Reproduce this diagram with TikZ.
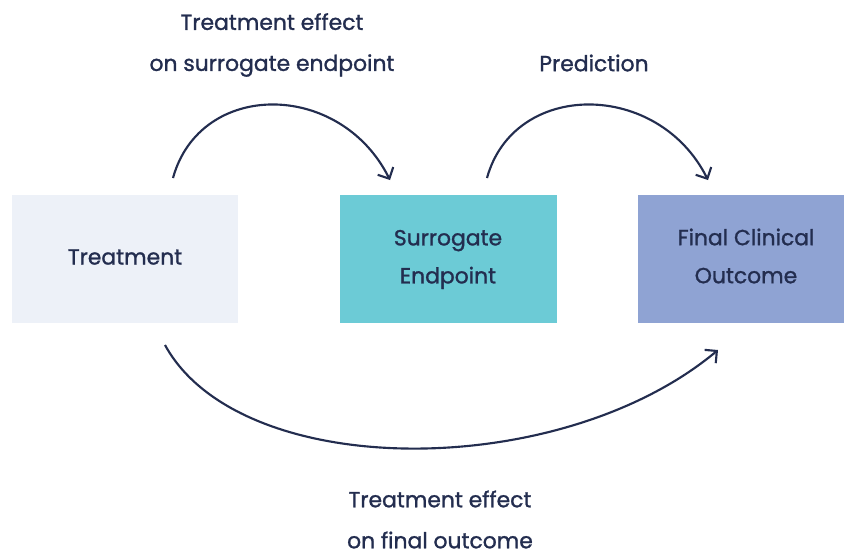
\documentclass[tikz,border=0pt]{standalone}
\usepackage{fontspec}
\setmainfont{Poppins}[FakeBold=1.2]
\usetikzlibrary{arrows.meta}

\definecolor{navy}{HTML}{232D4F}
\definecolor{paleblue}{HTML}{EDF1F8}
\definecolor{teal}{HTML}{6CCBD6}
\definecolor{lavender}{HTML}{8FA3D3}

\tikzset{
  box/.style={inner sep=0pt, text=navy, align=center, font=\fontsize{16.4}{28.5}\selectfont},
  lbl/.style={text=navy, align=center, font=\fontsize{16.4}{30.75}\selectfont},
  arr/.style={draw=navy, line width=1.6pt, -{Straight Barb[length=6.5pt, width=13pt, line width=1.6pt]}}
}

\begin{document}
\begin{tikzpicture}[x=0.75pt, y=-0.75pt]
\useasboundingbox (0,0) rectangle (844,551);

\fill[paleblue] (12,195) rectangle (238,323);
\fill[teal] (340,195) rectangle (557,323);
\fill[lavender] (638,195) rectangle (844,323);

% the box texts sit a little above the middle
\node[box] (treat) at (125,257) {Treatment};
\node[box] (surr) at (448,259.5) {Surrogate\\Endpoint};
\node[box] (final) at (746,256) {Final Clinical\\Outcome};

\node[lbl] (effsurr) at (272,45) {Treatment effect\\on surrogate endpoint};
\node[lbl] (pred) at (594,63) {Prediction};
\node[lbl] (efffinal) at (440,519.5) {Treatment effect\\on final outcome};

\coordinate (a1) at (173,178); \coordinate (b1) at (390,180);
\coordinate (a2) at (487,178); \coordinate (b2) at (708,180);
\coordinate (a3) at (165,345); \coordinate (b3) at (718,350);

\draw[arr] (a1) .. controls (200,80) and (340,80) .. (b1);
\draw[arr] (a2) .. controls (514,80) and (658,80) .. (b2);
\draw[arr] (a3) .. controls (240,482) and (560,482) .. (b3);

\end{tikzpicture}
\end{document}
